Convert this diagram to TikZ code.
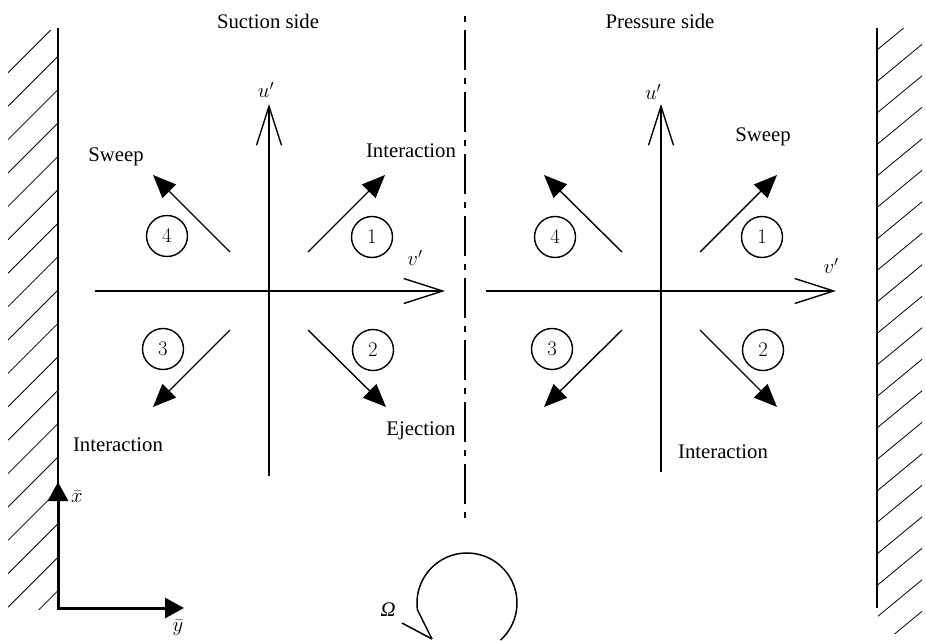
\documentclass[tikz,border=0pt]{standalone}
\usepackage[no-math]{fontspec}
\setmainfont{Liberation Serif}
\usetikzlibrary{arrows.meta}
\begin{document}
\begin{tikzpicture}[x=1pt,y=-1pt,
  lbl/.style={font=\fontsize{20.74}{25}\selectfont, inner sep=0pt},
  axisline/.style={line width=1.4pt, -{Straight Barb[length=39pt,width=25pt]}},
  flow/.style={line width=1.4pt, -{Triangle[length=23pt,width=19pt]}},
  circ/.style={draw, circle, line width=1.4pt, minimum size=41pt, inner sep=0pt, font=\fontsize{20.74}{25}\selectfont},
  wall/.style={line width=2pt},
  hatch/.style={line width=0.8pt},
  frame/.style={line width=3pt, {Triangle[length=19pt,width=20pt]}-{Triangle[length=19pt,width=20pt]}},
  centerline/.style={line width=1.8pt, dash pattern=on 6pt off 8pt on 40pt off 8pt},
  omega/.style={line width=1.5pt},
]
\useasboundingbox (0,0) rectangle (926,640);
\clip (0,0) rectangle (926,640);

% walls
\coordinate (WLt) at (58,28); \coordinate (WLb) at (58,608);
\coordinate (WRt) at (877,28); \coordinate (WRb) at (877,608);
\begin{scope}
  \clip (8,30) rectangle (57,609);
  \foreach \k in {0,...,17} \draw[hatch] (8,640.6-33.4*\k) -- ++(50,-50);
\end{scope}
\begin{scope}
  \clip (878,28) rectangle (922,633);
  \foreach \k in {0,...,19} \draw[hatch] (877,50+31.5*\k) -- ++(46,-38);
\end{scope}
\draw[wall] (WLt) -- (WLb);
\draw[wall] (WRt) -- (WRb);

% bottom-left frame
\coordinate (Co) at (58,608); \coordinate (Cx) at (58,482); \coordinate (Cy) at (184,608);
\draw[frame] (Cx) -- (Co) -- (Cy);
\node[lbl] (xbar) at (77,497) {$\bar{x}$};
\node[lbl] (ybar) at (178,628) {$\bar{y}$};

% centre line
\coordinate (Dt) at (465,16); \coordinate (Db) at (465,525);
\draw[centerline] (Dt) -- (Db);

% titles
\node[lbl] (suction) at (268,21) {Suction side};
\node[lbl] (pressure) at (660,21) {Pressure side};

% left quadrant axes
\coordinate (LxW) at (95,291); \coordinate (LxE) at (445,291);
\coordinate (LyS) at (269,476); \coordinate (LyN) at (269,104);
\draw[axisline] (LxW) -- (LxE);
\draw[axisline] (LyS) -- (LyN);
\node[lbl] (Lu) at (266,90) {$u'$};
\node[lbl] (Lv) at (415,258) {$v'$};

% right quadrant axes
\coordinate (RxW) at (486,291); \coordinate (RxE) at (836,291);
\coordinate (RyS) at (661,472); \coordinate (RyN) at (661,104);
\draw[axisline] (RxW) -- (RxE);
\draw[axisline] (RyS) -- (RyN);
\node[lbl] (Ru) at (653,92) {$u'$};
\node[lbl] (Rv) at (831,266) {$v'$};

% left flow arrows
\coordinate (L1s) at (308,252); \coordinate (L1t) at (385,175);
\coordinate (L4s) at (230,252); \coordinate (L4t) at (153,175);
\coordinate (L3s) at (230,330); \coordinate (L3t) at (153,407);
\coordinate (L2s) at (308,330); \coordinate (L2t) at (386,407);
\draw[flow] (L1s) -- (L1t);
\draw[flow] (L4s) -- (L4t);
\draw[flow] (L3s) -- (L3t);
\draw[flow] (L2s) -- (L2t);

% right flow arrows
\coordinate (R1s) at (700,252); \coordinate (R1t) at (777,175);
\coordinate (R4s) at (622,252); \coordinate (R4t) at (544,175);
\coordinate (R3s) at (622,330); \coordinate (R3t) at (544,407);
\coordinate (R2s) at (700,330); \coordinate (R2t) at (777,407);
\draw[flow] (R1s) -- (R1t);
\draw[flow] (R4s) -- (R4t);
\draw[flow] (R3s) -- (R3t);
\draw[flow] (R2s) -- (R2t);

% circled numbers
\node[circ] (Lc4) at (167,236) {$4$};
\node[circ] (Lc1) at (372,237) {$1$};
\node[circ] (Lc3) at (163,349) {$3$};
\node[circ] (Lc2) at (373,350) {$2$};
\node[circ] (Rc4) at (555,237) {$4$};
\node[circ] (Rc1) at (762,237) {$1$};
\node[circ] (Rc3) at (552,349) {$3$};
\node[circ] (Rc2) at (763,350) {$2$};

% labels
\node[lbl] (Lsweep) at (116,157) {Sweep};
\node[lbl] (Linter1) at (411,151) {Interaction};
\node[lbl] (Linter2) at (118,445) {Interaction};
\node[lbl] (Leject) at (421,431) {Ejection};
\node[lbl] (Rsweep) at (763,137) {Sweep};
\node[lbl] (Rinter) at (723,452) {Interaction};

% rotation symbol
\coordinate (Wc) at (467,603);
\coordinate (Wtip) at (432,639);
\coordinate (Wbarb) at (402,623);
\draw[omega] (Wc) ++(48:50) arc[start angle=48, end angle=-188, radius=50] -- (Wtip);
\draw[omega] (Wbarb) -- (Wtip);
\node[lbl] (Om) at (388,610) {\itshape Ω};
\end{tikzpicture}
\end{document}
